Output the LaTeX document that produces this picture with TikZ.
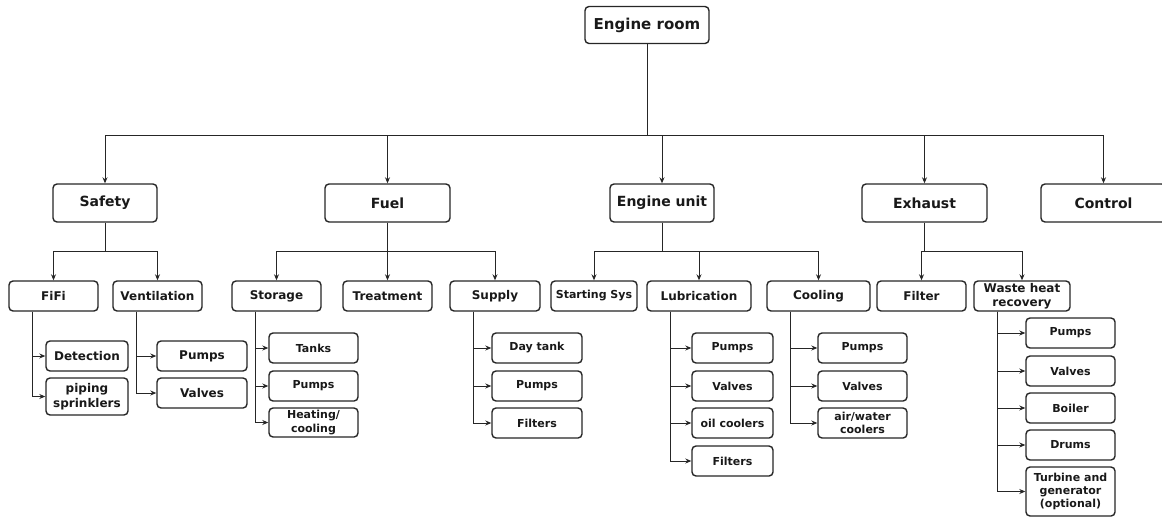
\documentclass[tikz,border=0pt]{standalone}
\usepackage{fontspec}
\setmainfont{DejaVu Sans}
\usepackage{tikz}
\usetikzlibrary{positioning, arrows.meta}

\begin{document}
\begin{tikzpicture}[x=1pt, y=-1pt,
  box/.style={draw=black!85, line width=1.4pt, rounded corners=4pt, fill=white, text=black!90,
              align=center, inner sep=1pt, font=\bfseries\fontsize{11}{13.3}\selectfont,
              minimum height=30pt},
  top/.style={box, minimum height=38pt, font=\bfseries\fontsize{14}{16}\selectfont},
  mid/.style={box, font=\bfseries\fontsize{12}{14.5}\selectfont},
  arr/.style={draw=black!85, line width=0.8pt, -{Stealth[length=6pt,width=5pt]}}]
\useasboundingbox (0,0) rectangle (1162,517);
\coordinate (b0) at (0,135); % bus under Engine room
\coordinate (b1) at (0,251); % bus under the subsystems
% root and subsystems
\node[top, minimum width=124pt, minimum height=37pt, font=\bfseries\fontsize{15}{17}\selectfont] (room) at (647,25) {Engine room};
\node[top, minimum width=104pt] (safety) at (105,203) {Safety};
\node[top, minimum width=125pt] (fuel) at (387.5,203) {Fuel};
\node[top, minimum width=104pt] (engine) at (662,203) {Engine unit};
\node[top, minimum width=125pt] (exhaust) at (924.5,203) {Exhaust};
\node[top, minimum width=125pt] (control) at (1103.5,203) {Control};
% second row
\node[mid, minimum width=89pt] (fifi) at (53.5,296) {FiFi};
\node[mid, minimum width=89pt] (vent) at (157.5,296) {Ventilation};
\node[mid, minimum width=89pt] (storage) at (276.5,296) {Storage};
\node[mid, minimum width=89pt] (treat) at (387.5,296) {Treatment};
\node[mid, minimum width=90pt] (supply) at (495,296) {Supply};
\node[box, minimum width=86pt] (start) at (594,296) {Starting Sys};
\node[mid, minimum width=104pt] (lub) at (699,296) {Lubrication};
\node[mid, minimum width=103pt] (cool) at (818.5,296) {Cooling};
\node[mid, minimum width=89pt] (filter) at (921.5,296) {Filter};
\node[mid, minimum width=96pt, inner sep=0pt] (whr) at (1022,296) {Waste heat\\recovery};
% third row: Safety
\node[mid, minimum width=82pt] (det) at (87,356) {Detection};
\node[mid, minimum width=82pt, minimum height=37pt] (pipe) at (87,396.5) {piping\\sprinklers};
\node[mid, minimum width=90pt] (vpumps) at (202,356) {Pumps};
\node[mid, minimum width=90pt] (vvalves) at (202,393) {Valves};
% third row: Fuel
\node[box, minimum width=89pt] (tanks) at (313.5,348) {Tanks};
\node[box, minimum width=89pt] (spumps) at (313.5,386) {Pumps};
\node[box, minimum width=89pt, minimum height=29pt, inner sep=0pt] (heat) at (313.5,422.5) {Heating/\\cooling};
\node[box, minimum width=90pt] (day) at (537,348) {Day tank};
\node[box, minimum width=90pt] (upumps) at (537,386) {Pumps};
\node[box, minimum width=90pt] (ufilt) at (537,423) {Filters};
% third row: Engine unit
\node[box, minimum width=81pt] (lpumps) at (732.5,348) {Pumps};
\node[box, minimum width=81pt] (lvalves) at (732.5,386) {Valves};
\node[box, minimum width=81pt] (oil) at (732.5,423) {oil coolers};
\node[box, minimum width=81pt] (lfilt) at (732.5,461) {Filters};
\node[box, minimum width=89pt] (cpumps) at (862.5,348) {Pumps};
\node[box, minimum width=89pt] (cvalves) at (862.5,386) {Valves};
\node[box, minimum width=89pt, inner sep=0pt] (air) at (862.5,423) {air/water\\coolers};
% third row: Exhaust
\node[box, minimum width=89pt] (wpumps) at (1070.5,333) {Pumps};
\node[box, minimum width=89pt] (wvalves) at (1070.5,371) {Valves};
\node[box, minimum width=89pt] (boiler) at (1070.5,408) {Boiler};
\node[box, minimum width=89pt] (drums) at (1070.5,445) {Drums};
\node[box, minimum width=89pt, minimum height=49pt, inner sep=0pt] (turb) at (1070.5,491.5) {Turbine and\\generator\\(optional)};
% connectors
\foreach \n in {safety,fuel,engine,exhaust,control}
  \draw[arr] (room.south) -- (room.south |- b0) -| (\n.north);
\foreach \p/\c in {safety/fifi,safety/vent,fuel/storage,fuel/treat,fuel/supply,
                   engine/start,engine/lub,engine/cool,exhaust/filter,exhaust/whr}
  \draw[arr] (\p.south) -- (\p.south |- b1) -| (\c.north);
\foreach \p/\c in {fifi/det,fifi/pipe,vent/vpumps,vent/vvalves,
                   storage/tanks,storage/spumps,storage/heat,
                   supply/day,supply/upumps,supply/ufilt,
                   lub/lpumps,lub/lvalves,lub/oil,lub/lfilt,
                   cool/cpumps,cool/cvalves,cool/air,
                   whr/wpumps,whr/wvalves,whr/boiler,whr/drums,whr/turb}
  \draw[arr] ([xshift=24pt]\p.south west) |- (\c.west);
\end{tikzpicture}
\end{document}
